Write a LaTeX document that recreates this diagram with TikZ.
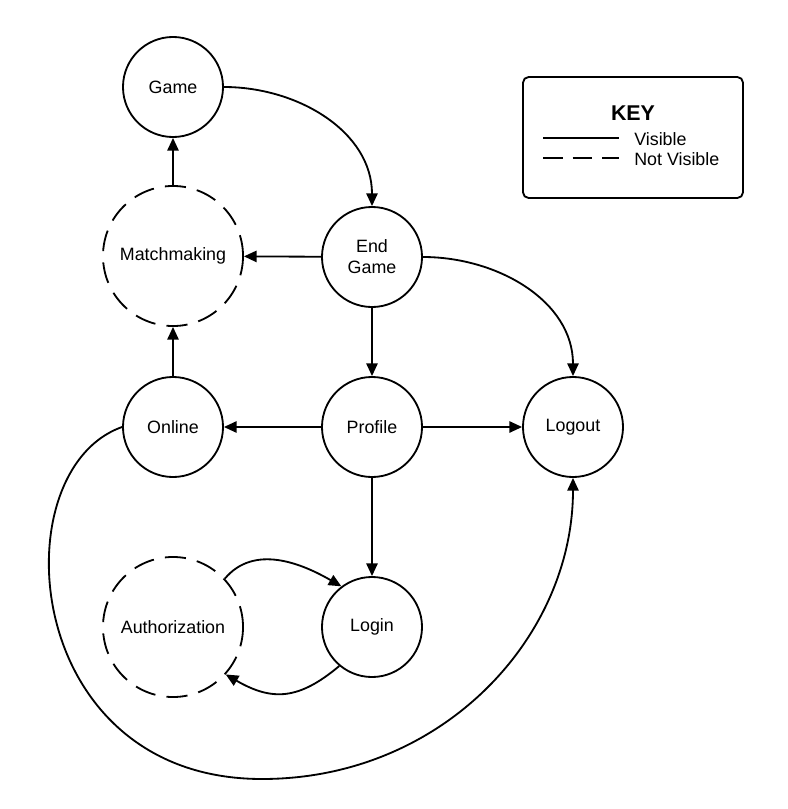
\documentclass[tikz,border=0pt]{standalone}
\usepackage{fontspec}
\setmainfont{Liberation Sans}
\usetikzlibrary{arrows.meta}

\tikzset{
  state/.style={draw, circle, line width=1.3pt, minimum size=2.5cm, inner sep=0pt, align=center, font=\fontsize{12.7}{15}\selectfont},
  hidden/.style={state, minimum size=3.5cm, dash pattern=on 15pt off 8pt},
  link/.style={line width=1.3pt, -{Triangle[length=9pt,width=8pt]}},
  keytext/.style={anchor=west, inner sep=0pt, font=\fontsize{12.7}{15}\selectfont},
}

\begin{document}
\begin{tikzpicture}[x=0.025cm,y=-0.025cm]
\useasboundingbox (0,0) rectangle (788,809);

\node[state] (game) at (173,87) {Game};
\node[hidden] (match) at (173,256) {Matchmaking};
\node[state] (endgame) at (372,257) {End\\Game};
\node[state] (online) at (173,427) {Online};
\node[state] (profile) at (372,427) {Profile};
\node[state] (logout) at (573,427) {Logout};
\node[hidden] (auth) at (173,627) {Authorization};
\node[state] (login) at (372,627) {Login};
\coordinate (bottom) at (262,779);

\draw[link] (match) -- (game);
\draw[link] (online) -- (match);
\draw[link] (endgame) -- (match);
\draw[link] (endgame) -- (profile);
\draw[link] (profile) -- (online);
\draw[link] (profile) -- (logout);
\draw[link] (profile) -- (login);
\draw[link] (game.east) to[out=0,in=90] (endgame.north);
\draw[link] (endgame.east) to[out=0,in=90] (logout.north);
\draw[link] (auth.43) to[out=50,in=150] (login.127);
\draw[link] (login.230) to[out=220,in=-30,looseness=1.2] (auth.318);
\draw[link] (online.west) .. controls +(-122,43) and +(-242,0) .. (bottom)
  .. controls +(180,0) and +(0,160) .. (logout.south);

\draw[line width=1.3pt, rounded corners=4pt] (523,77) rectangle (743,198);
\node[font=\bfseries\fontsize{15.2}{18}\selectfont] (keytitle) at (633,113) {KEY};
\draw[line width=1.3pt] (543,138) -- (619,138);
\draw[line width=1.3pt, dash pattern=on 14pt off 7pt] (543,158) -- (619,158);
\node[keytext] (keyvisible) at (634,139) {Visible};
\node[keytext] (keyhidden) at (634,159) {Not Visible};
\end{tikzpicture}
\end{document}
